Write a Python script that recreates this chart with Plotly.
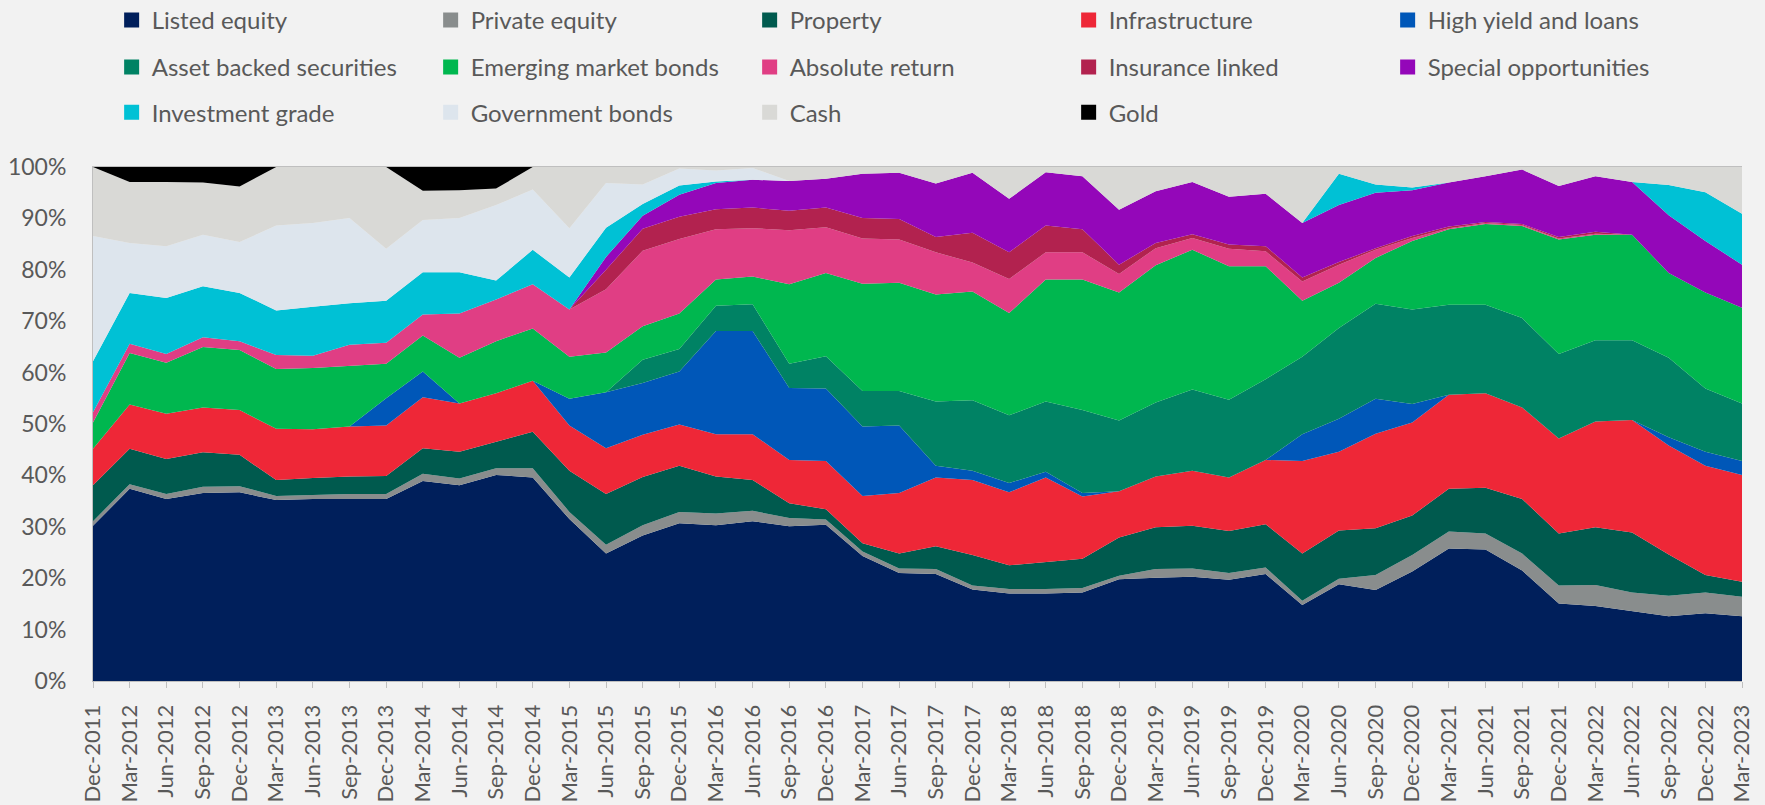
import plotly.graph_objects as go

dates = ["Dec-2011","Mar-2012","Jun-2012","Sep-2012","Dec-2012","Mar-2013","Jun-2013","Sep-2013",
         "Dec-2013","Mar-2014","Jun-2014","Sep-2014","Dec-2014","Mar-2015","Jun-2015","Sep-2015",
         "Dec-2015","Mar-2016","Jun-2016","Sep-2016","Dec-2016","Mar-2017","Jun-2017","Sep-2017",
         "Dec-2017","Mar-2018","Jun-2018","Sep-2018","Dec-2018","Mar-2019","Jun-2019","Sep-2019",
         "Dec-2019","Mar-2020","Jun-2020","Sep-2020","Dec-2020","Mar-2021","Jun-2021","Sep-2021",
         "Dec-2021","Mar-2022","Jun-2022","Sep-2022","Dec-2022","Mar-2023"]

listed_equity = [30.2,37.4,35.4,36.6,36.7,35.2,35.4,35.4,35.4,38.9,38.1,40.1,39.6,31.5,24.8,28.3,30.7,30.3,31.1,30.1,
                 30.4,24.3,21.0,20.8,17.8,17.0,17.0,17.2,19.8,20.1,20.3,19.7,20.8,14.8,18.8,17.7,21.3,25.8,25.6,21.5,
                 15.1,14.6,13.6,12.6,13.2,12.6]
private_equity = [0.9,0.9,1.0,1.2,1.2,0.8,0.8,1.0,1.0,1.4,1.3,1.3,1.8,1.4,1.7,2.0,2.2,2.3,2.0,1.6,
                  1.0,0.9,0.9,1.0,0.8,0.9,0.9,0.9,0.7,1.7,1.6,1.3,1.3,0.8,1.1,2.9,3.2,3.3,3.1,3.3,
                  3.5,4.1,3.6,4.0,4.0,3.8]
property_ = [7.0,6.9,6.8,6.7,6.1,3.1,3.3,3.4,3.5,5.0,5.2,5.2,7.1,8.0,9.9,9.4,9.0,7.2,6.0,2.9,
             2.0,1.6,2.9,4.4,5.9,4.6,5.3,5.7,7.4,8.1,8.3,8.2,8.4,9.2,9.4,9.1,7.7,8.3,8.9,10.6,
             10.1,11.2,11.7,8.0,3.4,2.9]
infrastructure = [7.1,8.6,8.8,8.7,8.7,10.0,9.5,9.7,9.8,9.9,9.4,9.4,9.9,8.8,8.9,8.2,8.0,8.2,8.9,8.4,
                  9.4,9.2,11.8,13.4,14.6,14.2,16.4,12.1,9.0,9.9,10.7,10.4,12.5,18.0,15.3,18.4,18.1,18.3,18.4,17.8,
                  18.5,20.6,21.9,21.2,21.3,20.8]
high_yield = [0,0,0,0,0,0,0,0,5.3,5.0,0,0,0,5.2,10.9,10.1,10.3,20.1,20.1,14.0,
              14.1,13.5,13.1,2.3,1.8,1.8,1.1,0.7,0,0,0,0,0,5.2,6.4,6.8,3.6,0,0,0,
              0,0,0,1.6,2.7,2.7]
asset_backed = [0,0,0,0,0,0,0,0,0,0,0,0,0,0,0,4.5,4.4,4.9,5.2,4.7,
                6.3,6.9,6.7,12.5,13.7,13.2,13.7,16.1,13.8,14.4,15.8,15.1,15.7,15.1,17.7,18.5,18.4,17.5,17.2,17.4,
                16.4,15.8,15.5,15.5,12.3,11.2]
em_bonds = [5.1,10.0,9.9,11.8,11.7,11.6,11.9,11.8,6.7,7.0,8.9,10.1,10.2,8.2,7.7,6.5,6.9,5.1,5.4,15.5,
            16.2,20.9,21.1,20.8,21.2,19.9,23.7,25.4,24.9,26.7,27.2,26.0,22.0,10.9,8.8,8.9,13.3,14.7,15.7,17.9,
            22.3,20.5,20.5,16.5,18.7,18.6]
absolute_return = [2.0,1.8,1.7,1.9,1.7,2.7,2.4,4.1,4.1,4.1,8.6,8.1,8.6,9.2,12.3,14.7,14.5,9.8,9.4,10.5,
                   8.9,8.8,8.4,8.2,5.6,6.6,5.3,5.3,3.6,3.3,2.3,3.4,2.9,3.7,3.5,1.6,0.6,0.2,0.2,0.2,
                   0.2,0.2,0,0,0,0]
insurance_linked = [0,0,0,0,0,0,0,0,0,0,0,0,0,0,3.8,4.3,4.3,3.9,4.0,3.8,
                    3.8,4.0,4.0,3.0,5.8,5.2,5.2,4.5,1.8,1.0,0.7,0.8,1.0,0.8,0.5,0.3,0.4,0.3,0.2,0.2,
                    0.3,0.4,0,0,0,0]
special_opps = [0,0,0,0,0,0,0,0,0,0,0,0,0,0,2.5,2.5,4.3,5.1,5.4,5.8,
                5.6,8.6,9.0,10.4,11.7,10.4,10.4,10.3,10.7,10.1,10.2,9.3,10.2,10.6,11.1,10.8,8.9,8.6,8.9,10.6,
                9.9,10.8,10.3,11.2,10.0,8.4]
investment_grade = [9.9,9.9,10.9,9.9,9.4,8.7,9.5,8.1,8.2,8.2,8.0,3.7,6.7,6.2,5.7,2.3,1.8,0.3,0,0,
                    0,0,0,0,0,0,0,0,0,0,0,0,0,0,6.1,1.6,0.5,0,0,0,
                    0,0,0,5.9,9.5,9.9]
government_bonds = [24.4,9.7,10.1,10.0,9.9,16.5,16.3,16.6,10.1,10.2,10.6,14.7,11.7,9.6,8.7,3.8,3.3,2.1,2.3,0,
                    0,0,0,0,0,0,0,0,0,0,0,0,0,0,0,0,0,0,0,0,
                    0,0,0,0,0,0]
cash = [13.4,11.9,12.5,10.2,10.8,11.4,10.9,9.9,15.9,5.7,5.4,3.2,4.4,11.9,3.1,3.4,0.3,0.7,0.2,2.7,
        2.3,1.3,1.1,3.2,1.1,6.2,1.0,1.8,8.3,4.7,2.9,5.8,5.2,10.9,1.3,3.4,4.0,3.0,1.8,0.5,
        3.7,1.8,2.9,3.5,4.9,9.1]
gold = [0,2.9,2.9,3.0,3.8,0,0,0,0,4.6,4.5,4.2,0,0,0,0,0,0,0,0,
        0,0,0,0,0,0,0,0,0,0,0,0,0,0,0,0,0,0,0,0,
        0,0,0,0,0,0]

series = [
    ("Listed equity", listed_equity, "#001F5B"),
    ("Private equity", private_equity, "#898D8D"),
    ("Property", property_, "#005A4E"),
    ("Infrastructure", infrastructure, "#EE2737"),
    ("High yield and loans", high_yield, "#0057B8"),
    ("Asset backed securities", asset_backed, "#008264"),
    ("Emerging market bonds", em_bonds, "#00B74F"),
    ("Absolute return", absolute_return, "#E03E84"),
    ("Insurance linked", insurance_linked, "#B2224F"),
    ("Special opportunities", special_opps, "#9407B9"),
    ("Investment grade", investment_grade, "#00C1D5"),
    ("Government bonds", government_bonds, "#DDE5ED"),
    ("Cash", cash, "#D9D9D6"),
    ("Gold", gold, "#000000"),
]

legend_rows = ["legend"] * 5 + ["legend2"] * 5 + ["legend3"] * 4

fig = go.Figure()
for name, vals, col in series:
    fig.add_trace(go.Scatter(
        x=dates, y=vals, name=name, mode="lines", stackgroup="one", groupnorm="percent",
        line=dict(width=0, color=col), fillcolor=col, showlegend=False, hoverinfo="skip"))

for (name, vals, col), lg in zip(series, legend_rows):
    fig.add_trace(go.Scatter(
        x=[None], y=[None], name=name, mode="markers", legend=lg,
        marker=dict(symbol="square", size=15, color=col, line=dict(width=0)), showlegend=True))

FONT = "Lato, 'Open Sans', sans-serif"
TXT = "#595959"
leg_common = dict(orientation="h", xanchor="left", yanchor="middle", x=0.0113,
                  entrywidth=274, entrywidthmode="pixels", bgcolor="rgba(0,0,0,0)",
                  font=dict(family=FONT, size=24, color=TXT), traceorder="normal")

fig.update_layout(
    width=1765, height=805,
    paper_bgcolor="#F2F2F2", plot_bgcolor="#F2F2F2",
    margin=dict(l=93, r=23, t=167, b=124, autoexpand=False),
    showlegend=True,
    legend=dict(y=1.2853, **leg_common),
    legend2=dict(y=1.1936, **leg_common),
    legend3=dict(y=1.1058, **leg_common),
    xaxis=dict(type="category", categoryorder="array", categoryarray=dates, range=[0, len(dates) - 1],
               tickangle=-90, ticks="outside", ticklen=6, tickcolor="#BFBFBF",
               showline=True, linecolor="#BFBFBF", linewidth=1, mirror=True, showgrid=False,
               tickfont=dict(family=FONT, size=22, color=TXT), ticklabelstandoff=8),
    yaxis=dict(range=[0, 100], dtick=10, ticksuffix="%", showgrid=False, zeroline=False,
               showline=True, linecolor="#BFBFBF", linewidth=1, ticks="",
               tickfont=dict(family=FONT, size=23, color=TXT), ticklabelstandoff=21),
)

fig.write_html("out.html", config={"displayModeBar": False},
               post_script="document.body.style.margin='0px';document.body.style.overflow='hidden';")
